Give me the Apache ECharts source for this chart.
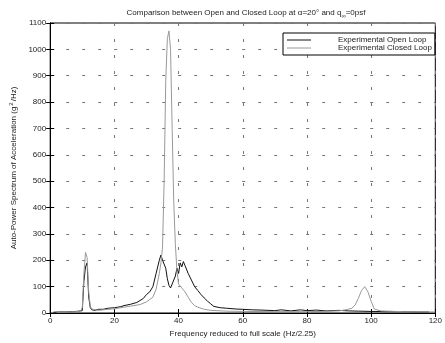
<!DOCTYPE html>
<html><head><meta charset="utf-8">
<script src="https://cdn.jsdelivr.net/npm/echarts@6/dist/echarts.min.js"></script>
<style>html,body{margin:0;padding:0;background:#fff}#c{width:445px;height:343px}</style>
</head><body><div id="c"></div>
<script>
var xTicks = [0, 20, 40, 60, 80, 100, 120];
var yTicks = [0, 100, 200, 300, 400, 500, 600, 700, 800, 900, 1000, 1100];
var seriesNames = ['Experimental Open Loop', 'Experimental Closed Loop'];

var openFreq = [1,3,5,7,8,9,10,10.5,11,11.5,12,12.5,13,14,15,15.6,16.5,18,20,22,23,25,27,29,30,31,32,33,34,34.5,35,35.5,36,36.5,37,37.5,38,38.5,39,39.5,40,40.5,41,41.5,42,43,44,45,46,47,48,49,50,51,53,55,58,60,63,66,70,72,75,78,80,83,86,90,93,96,100,105,110,115,118];
var openVals = [3,4,4,5,6,7,9,120,175,190,60,20,12,10,14,18,14,18,20,24,28,33,40,55,70,80,100,150,200,220,200,205,170,130,105,95,110,105,140,170,150,190,175,195,180,150,125,100,85,70,57,45,35,25,20,18,15,14,12,11,9,12,8,12,9,11,8,10,8,7,6,5,5,4,4];

var closedFreq = [2,5,8,9.5,10,10.5,11,11.5,12,12.5,13,15,18,20,23,25,28,30,32,33,34,34.5,35,35.5,36,36.5,37,37.5,38,38.5,39,39.5,40,41,42,43,44,45,46,48,50,55,60,70,80,85,90,92,94,95,96,97,98,99,100,101,103,110,120];
var closedVals = [3,3,5,8,20,150,230,210,80,25,15,10,14,16,22,26,32,42,60,90,150,190,250,500,880,1040,1070,1000,700,420,260,160,110,95,80,60,40,28,22,14,10,7,6,5,5,6,8,12,18,30,55,85,100,80,45,15,8,5,4];

function pairs(xs, ys){ var out=[]; for(var i=0;i<xs.length;i++) out.push([xs[i], ys[i]]); return out; }

var font = 'Liberation Sans, Arial, sans-serif';
var chart = echarts.init(document.getElementById('c'));
var gridLine = {show:true, lineStyle:{color:'#777', type:[3,13], width:1}};
chart.setOption({
  animation:false,
  backgroundColor:'#fff',
  title:{
    text:'{t|Comparison between Open and Closed Loop at α=20° and q}{s|∞}{t|=0psf}',
    left:241, top:2, textAlign:'center',
    textStyle:{fontWeight:'normal', rich:{t:{fontSize:8, color:'#222', fontFamily:font, fontWeight:'normal'}, s:{fontSize:6, color:'#222', fontFamily:font, fontWeight:'normal', padding:[6,0,0,0]}}}
  },
  grid:{left:46, right:8, top:23, bottom:30, show:true, borderColor:'#000', borderWidth:1},
  legend:{
    data:seriesNames, left:283, top:33, orient:'vertical',
    backgroundColor:'#fff', borderColor:'#000', borderWidth:1,
    padding:[3,3,3,4], itemGap:0, itemWidth:24, itemHeight:6,
    icon:'path://M0,3L24,3L24,4L0,4Z',
    textStyle:{fontSize:8, color:'#222', fontFamily:font, lineHeight:7, padding:[0,0,0,22]}
  },
  xAxis:[{
    type:'value', min:0, max:120, interval:20,
    name:'Frequency reduced to full scale (Hz/2.25)', nameLocation:'middle', nameGap:15,
    nameTextStyle:{fontSize:8, color:'#222', fontFamily:font},
    axisLine:{show:true, onZero:false, lineStyle:{color:'#000', width:1}},
    axisTick:{show:true, inside:true, length:4, lineStyle:{color:'#000'}},
    axisLabel:{fontSize:8, color:'#222', fontFamily:font, margin:4,
      formatter:function(v){ return xTicks.indexOf(v)>=0 ? String(v) : ''; }},
    splitLine:gridLine
  },{
    type:'value', min:0, max:120, interval:20, position:'top',
    axisLine:{show:true, lineStyle:{color:'#000'}},
    axisTick:{show:true, inside:true, length:4, lineStyle:{color:'#000'}},
    axisLabel:{show:false}, splitLine:{show:false}
  }],
  yAxis:[{
    type:'value', min:0, max:1100, interval:100,
    name:'{a|Auto-Power Spectrum of Acceleration (g}{s|2}{a|/Hz)}', nameLocation:'middle', nameGap:30,
    nameTextStyle:{fontSize:8, color:'#222', fontFamily:font, rich:{a:{fontSize:8, color:'#222', fontFamily:font}, s:{fontSize:6, color:'#222', fontFamily:font, padding:[0,1,5,1]}}},
    axisLine:{show:true, lineStyle:{color:'#000', width:1}},
    axisTick:{show:true, inside:true, length:4, lineStyle:{color:'#000'}},
    axisLabel:{fontSize:8, color:'#222', fontFamily:font, margin:4,
      formatter:function(v){ return yTicks.indexOf(v)>=0 ? String(v) : ''; }},
    splitLine:gridLine
  },{
    type:'value', min:0, max:1100, interval:100, position:'right',
    axisLine:{show:true, lineStyle:{color:'#000'}},
    axisTick:{show:true, inside:true, length:4, lineStyle:{color:'#000'}},
    axisLabel:{show:false}, splitLine:{show:false}
  }],
  series:[
    {name:seriesNames[0], type:'line', data:pairs(openFreq, openVals), showSymbol:false, lineStyle:{color:'#111', width:1}, itemStyle:{color:'#111'}},
    {name:seriesNames[1], type:'line', data:pairs(closedFreq, closedVals), showSymbol:false, lineStyle:{color:'#999', width:1}, itemStyle:{color:'#999'}}
  ]
});
</script></body></html>
